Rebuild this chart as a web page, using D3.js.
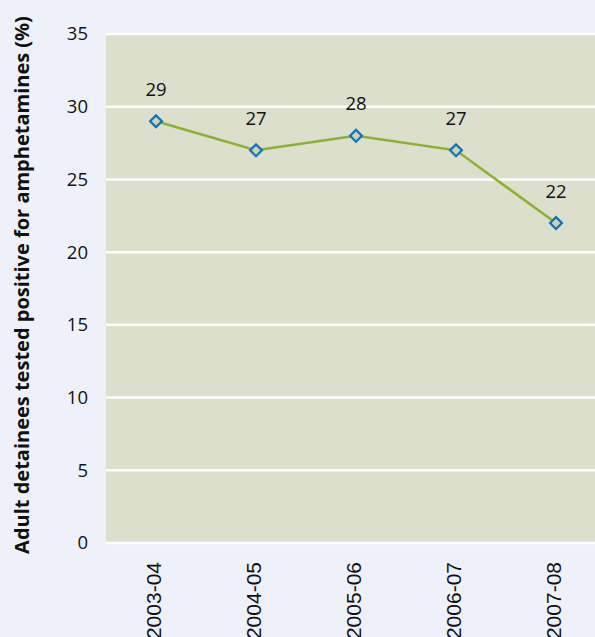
<!DOCTYPE html>
<html><head><meta charset="utf-8">
<script src="https://cdn.jsdelivr.net/npm/d3@7"></script>
<style>body{margin:0;background:#eef1f9;}svg{display:block;}</style>
</head><body>
<script>
const categories = ["2003-04","2004-05","2005-06","2006-07","2007-08"];
const values = [29,27,28,27,22];
const yTicks = [0,5,10,15,20,25,30,35];
const yTitle = "Adult detainees tested positive for amphetamines (%)";

(function(){
const W=595,H=637;
const svg=d3.select("body").append("svg").attr("width",W).attr("height",H);
svg.append("rect").attr("width",W).attr("height",H).attr("fill","#eef1f9");
const pL=106,pR=606,pT=34,pB=543;
const x=d3.scaleBand().domain(categories).range([pL,pR]);
const y=d3.scaleLinear().domain([0,35]).range([pB,pT]);
svg.append("rect").attr("x",pL).attr("y",pT).attr("width",W-pL).attr("height",pB-pT).attr("fill","#dcdfcb");
svg.selectAll("line.g").data(yTicks).join("line").attr("class","g")
 .attr("x1",pL).attr("x2",W).attr("y1",d=>y(d)).attr("y2",d=>y(d))
 .attr("stroke","#fff").attr("stroke-width",2.5);
svg.selectAll("text.yt").data(yTicks).join("text").attr("class","yt")
 .attr("x",88).attr("y",d=>y(d)).attr("dy","0.35em").attr("text-anchor","end")
 .attr("font-family","Open Sans, sans-serif").attr("font-size",18.5).attr("fill","#111").text(d=>d);
svg.selectAll("text.xt").data(categories).join("text").attr("class","xt")
 .attr("transform",d=>`translate(${x(d)+x.bandwidth()/2-2.5},562) rotate(-90)`)
 .attr("dy","0.35em")
 .attr("text-anchor","end").attr("font-family","Liberation Sans, Arial, sans-serif").attr("font-size",21).attr("fill","#111").text(d=>d);
const cx=(d,i)=>x(categories[i])+x.bandwidth()/2;
const line=d3.line().x((d,i)=>cx(d,i)).y(d=>y(d));
svg.append("path").datum(values).attr("d",line).attr("fill","none").attr("stroke","#8cb034").attr("stroke-width",2.5);
svg.selectAll("path.m").data(values).join("path").attr("class","m")
 .attr("d",d3.symbol().type(d3.symbolSquare).size(70))
 .attr("transform",(d,i)=>`translate(${cx(d,i)},${y(d)}) rotate(45)`)
 .attr("fill","#ccd3b5").attr("stroke","#0f72b8").attr("stroke-width",2.2);
svg.selectAll("text.dl").data(values).join("text").attr("class","dl")
 .attr("x",(d,i)=>cx(d,i)).attr("y",d=>y(d)-32).attr("dy","0.35em").attr("text-anchor","middle")
 .attr("font-family","Open Sans, sans-serif").attr("font-size",18.5).attr("fill","#111").text(d=>d);
svg.append("text").attr("transform","translate(22,285) rotate(-90)").attr("dy","0.35em").attr("text-anchor","middle")
 .attr("font-family","Open Sans, sans-serif").attr("font-weight","bold").attr("font-size",20).attr("fill","#111").text(yTitle);
})();
</script>
</body></html>
